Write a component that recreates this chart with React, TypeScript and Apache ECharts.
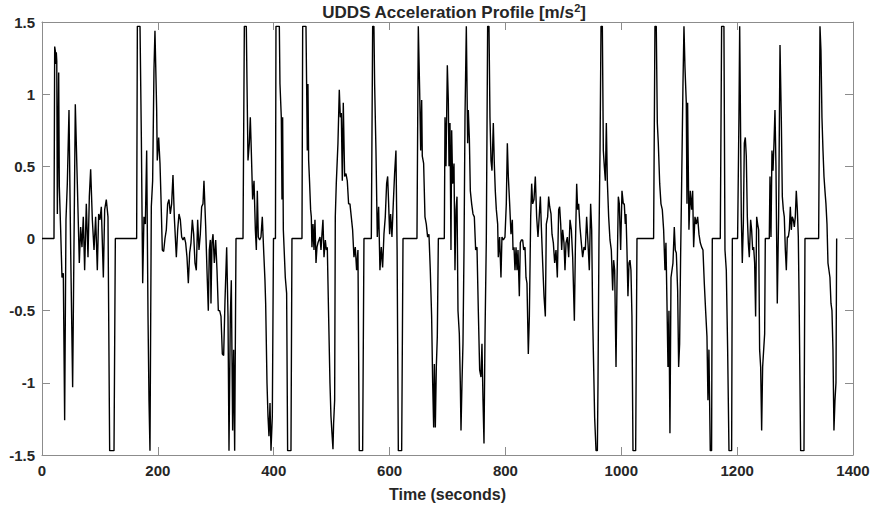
import React, { useEffect, useRef } from 'react';
import * as echarts from 'echarts';

// Tick setup
const timeTicks = [0, 200, 400, 600, 800, 1000, 1200, 1400];
const accelTicks = [-1.5, -1, -0.5, 0, 0.5, 1, 1.5];

const titleMain = 'UDDS Acceleration Profile [m/s';
const titleSup = '2';
const titleEnd = ']';
const xAxisName = 'Time (seconds)';

// [time s, acceleration m/s^2]
const phase0to210: [number, number][] = [
  [0, 0], [20.7, 0], [21.9, 1.33], [23, 1.3], [24.2, 1.21], [24.7, 1.29], [25.5, 1.23], [26.5, 0.17],
  [28.8, 1.15], [29.9, 0.36], [32.2, 0.06], [34.5, -0.27], [36.8, -0.24], [39.1, -1.26], [41.4, 0.13],
  [43.7, 0.38], [46.6, 0.89], [49.5, -0.08], [52.9, -1.03], [57.5, 0.93], [61, 0.38], [64.4, -0.17],
  [66.7, 0.08], [69, -0.06], [71.3, 0.15], [73.6, -0.22], [76.5, 0.24], [79.4, -0.13], [81.7, 0.29],
  [84, 0.48], [86.9, 0.13], [89.8, -0.08], [92.6, 0.15], [95.5, -0.22], [97.8, 0.17], [100.1, 0.13],
  [102.4, 0.22], [105.9, -0.27], [108.2, 0.2], [111, 0.27], [113.9, 0.15], [116.8, -1.47], [124.3, -1.47],
  [126.6, 0], [163.4, 0], [164.6, 1.47], [169.2, 1.47], [171.5, 0.7], [173.8, -0.31], [176, 0.15],
  [178.4, 0.1], [180.7, 0.61], [183, -0.54], [184.7, -1.12], [186.4, -1.47], [188.7, 0.22], [191, 0.4],
  [193.3, 1.17], [195, 1.44], [197.9, 0.9], [199, 0.54], [201.4, 0.7], [203.7, 0.52], [205.4, 0.28],
  [207.7, -0.08],
];

const phase210to400: [number, number][] = [
  [210, -0.09], [212.3, 0], [214.6, 0.06], [216.9, 0.24], [219.2, 0.27], [221.5, 0.17], [223.8, 0.24],
  [226.1, 0.44], [228.4, 0.15], [231.9, -0.13], [234.2, 0.06], [236.5, 0.17], [238.8, 0.13], [241.1, 0.01],
  [243.4, -0.01], [245.7, 0.01], [248, -0.03], [250.3, -0.13], [252.6, -0.31], [254.9, -0.1], [257.2, -0.03],
  [259.5, 0.13], [261.8, 0.03], [264.1, -0.17], [266.4, -0.22], [268.7, 0.13], [271, -0.08], [273.3, 0.03],
  [275.6, 0.22], [277.9, 0.24], [279.6, 0.4], [282.5, 0.09], [284.8, -0.22], [287.1, -0.5], [288.8, -0.08],
  [290.6, -0.01], [291.7, -0.45], [293.4, -0.03], [295.2, 0.03], [297.5, -0.17], [299.8, -0.01],
  [302.1, -0.22], [304.4, -0.5], [306.7, -0.5], [309, -0.54], [311.3, -0.8], [313.6, -0.81], [315.9, -0.43],
  [318.8, -0.06], [321.1, -0.54], [322.8, -1.47], [325.1, -0.54], [326.8, -0.29], [329.1, -1.33],
  [330.8, -0.77], [332.6, -1.47], [334.9, 0], [347, 0], [349.3, 1.47], [352.7, 1.47], [353.9, 1.07],
  [355.6, 0.54], [357.9, 0.66], [359.6, 0.84], [361.3, 0.61], [363.6, 0.27], [366, 0.4], [368.3, 0.06],
  [370, -0.08], [371.7, 0.33], [373.4, 0.01], [375.7, -0.01], [378, 0.01], [380.3, 0.15], [382.6, -0.08],
  [384.9, -0.29], [386.1, -0.45], [388.4, -1.0], [390.1, -1.23], [391.8, -1.37], [393.6, -1.14],
  [395.3, -1.47], [397.6, -1.23], [399.6, 0],
];

const phase400to610: [number, number][] = [
  [403, 0], [403.9, 1.47], [409.7, 1.47], [410.8, 1.07], [413.1, 0.84], [414.3, 0.27], [415.4, 0.84],
  [416.6, 0.06], [420, -0.27], [422.3, -0.38], [424, -1.47], [429.8, -1.47], [431.5, 0], [448.8, 0],
  [450, 1.47], [455.7, 1.47], [456.8, 1.07], [458, 0.61], [459.1, 1.07], [460.3, 0.54], [462, 0.38],
  [463.7, 0.2], [464.9, 0.15], [466, -0.06], [467.8, 0.1], [469.5, -0.08], [471.2, 0.13], [473, -0.17],
  [474.7, -0.06], [476.4, -0.03], [478.1, -0.01], [479.9, 0.01], [481.6, -0.08], [483.3, 0.03], [485, 0.13],
  [486.8, -0.13], [489.1, -0.01], [490.8, -0.08], [492.5, -0.06], [494.8, -0.54], [497.1, -1.0],
  [498.8, -1.23], [500.6, -1.35], [502.3, -1.46], [503.4, -1.28], [505.2, -1.12], [506.3, 0.15], [508, 0.38],
  [510.9, 0.66], [513.2, 1.03], [515, 0.84], [516.7, 0.87], [518.4, 0.4], [520.1, 0.94], [522.4, 0.43],
  [524.7, 0.45], [527, 0.4], [529.3, 0.24], [531.6, 0.24], [533.9, 0.15], [536.2, 0.06], [538.5, -0.13],
  [540.8, -0.06], [543.1, -0.22], [545.4, -0.08], [547.7, -1.47], [553.5, -1.47], [555.8, 0], [568.5, 0],
  [570.8, 1.47], [573, 1.47], [574.2, 1.07], [576.5, 0.61], [578.8, 0.01], [581.1, 0.22], [583.4, -0.22],
  [585.7, -0.06], [588, -0.2], [590.3, 0.03], [592.6, 0.15], [594.9, 0.38], [596.7, 0.43], [598.4, 0.24],
  [600.1, 0.03], [601.8, 0.17], [604.1, 0.01], [606.4, 0.24], [608.7, 0.45], [611, 0.61],
];

const phase610to815: [number, number][] = [
  [612.2, 0.2], [613, -0.08], [615.1, -1.47], [620.9, -1.47], [623.2, 0], [647.3, 0], [649.6, 1.47],
  [651.9, 1.03], [653.7, 0.61], [655.4, 0.96], [656.5, 0.57], [658.8, 0.52], [661.1, 0.15], [663.4, 0.1],
  [665.7, 0.01], [668, 0.03], [670.3, -0.22], [672.6, -0.54], [674.4, -1.0], [676.1, -1.31], [677.3, -0.87],
  [679, -1.31], [680.7, -0.89], [682.4, -0.68], [684.2, 0], [694.5, 0], [695.7, 0.84], [697.4, 0.5],
  [699.7, 1.2], [701.4, 0.96], [702.6, 0.5], [704.3, 0.8], [706, -0.08], [707.2, 0.75], [708.9, 0.38],
  [711.2, 0.52], [712.9, -0.22], [714.7, 0.2], [716.4, 0.29], [718.1, -0.5], [720.4, -0.66], [722.1, -1.0],
  [723.3, -1.33], [725, -1.0], [726.7, -0.73], [728.5, -0.08], [730.2, 0.84], [732.5, 1.47], [734.8, 0.66],
  [735.9, 0.89], [737.7, 0.7], [739.4, 0.33], [741.7, 0.24], [744, 0.17], [746.3, 0.15], [748.6, -0.08],
  [750.9, -0.06], [753.2, -0.5], [755.5, -0.91], [757.8, -0.96], [759.5, -0.73], [761.3, -1.12],
  [763, -1.42], [764.7, -0.68], [767, -0.01], [769.3, 1.47], [771.6, 1.47], [773.3, 0.84], [775.1, 0.54],
  [776.8, 0.47], [779.1, 0.8], [780.8, 0.52], [782.5, 0.33], [784.3, 0.2], [786.6, 0.1], [787.7, -0.13],
  [790, 0.01], [792.3, -0.27], [794, 0.01], [796.4, -0.01], [799.2, 0.01], [801.5, 0.24], [803.3, 0.66],
  [805, 0.43], [807.3, 0.24], [809.6, 0.03], [811.9, 0.13], [813.1, -0.08], [814.8, -0.06],
];

const phase815to1005: [number, number][] = [
  [816.5, -0.22], [818.3, -0.06], [820, -0.22], [821.7, -0.08], [824, -0.4], [825.7, -0.03], [827.5, -0.01],
  [829.8, -0.01], [831.5, -0.08], [833.8, -0.06], [835.5, -0.27], [837.2, -0.31], [839.5, -0.8],
  [841.3, -0.54], [843.6, 0.15], [845.3, 0.38], [847, 0.24], [849.3, 0.27], [851.6, 0.43], [853.9, 0.15],
  [856.2, 0.01], [858, 0.13], [860.3, 0.29], [862, 0.08], [864.3, -0.17], [866.6, -0.4], [868.9, -0.54],
  [870.6, 0.1], [872.9, 0.15], [874.6, 0.29], [876.4, 0.22], [878.7, 0.17], [880.4, 0.03], [882.7, -0.03],
  [885, -0.17], [887.3, -0.08], [889.6, -0.27], [891.9, 0.2], [893.6, 0.22], [895.4, 0.1], [897.1, -0.08],
  [898.8, 0.06], [901.1, -0.03], [902.8, -0.22], [904.6, -0.03], [906.9, 0.01], [909.2, -0.13],
  [911.5, 0.13], [913.8, 0.06], [916.1, -0.13], [919, -0.57], [920.7, -0.08], [923, 0.38], [924.7, 0.2],
  [926.4, 0.24], [928.7, 0.08], [931, -0.03], [933.3, -0.13], [935.6, -0.06], [937.9, -0.08], [940.2, 0.15],
  [942.5, -0.03], [944.8, -0.22], [947.1, 0.24], [948.9, 0.06], [950.6, -0.54], [952.3, -0.89],
  [954, -1.24], [956.4, -1.47], [958.7, -1.47], [959.8, -1.0], [961.5, 0], [963.3, 0.61], [965, 1.47],
  [967.3, 1.47], [969, 0.61], [970.7, 0.5], [972.5, 0.4], [974.2, 0.8], [975.9, 0.4], [978.2, 0.15],
  [980.5, -0.01], [982.8, -0.08], [985.1, -0.36], [986.8, -0.15], [988.6, -0.22], [990.9, -0.89],
  [992.6, -0.31], [994.9, 0.29], [996.6, 0.24], [998.9, -0.08], [1001.2, 0.33], [1003.5, 0.24],
];

const phase1005to1205: [number, number][] = [
  [1005.2, 0.24], [1006.9, 0.1], [1008.1, 0.17], [1009.8, -0.08], [1011.5, -0.4], [1013.3, -0.17],
  [1015, -0.15], [1016.7, -0.22], [1018.4, -0.54], [1020.2, -1.47], [1024.8, -1.47], [1027.1, 0],
  [1055.8, 0], [1058.1, 1.47], [1060.4, 1.47], [1062.2, 0.8], [1063.9, 0.66], [1066.3, 0.38],
  [1068.5, 0.24], [1070.8, 0.2], [1073.1, 0.06], [1075.4, -0.22], [1077.1, -0.03], [1078.8, -0.43],
  [1080.6, -0.89], [1082.3, -0.5], [1084, -1.35], [1085.8, -0.27], [1087.5, -0.22], [1089.2, -0.17],
  [1091.5, 0.08], [1093.2, -0.08], [1095, -0.1], [1097.3, -0.36], [1099, -0.89], [1100.7, -0.73],
  [1102.4, -0.13], [1104.2, 0.38], [1106.5, 1.07], [1108.2, 1.47], [1109.9, 1.19], [1112.2, 0.94],
  [1113.4, 0.24], [1114.5, 0.94], [1116.8, 0.06], [1119.1, 0.33], [1121.4, 0.2], [1123.2, 0.33],
  [1124.9, -0.06], [1127.2, 0.15], [1129.5, 0.1], [1131.8, 0.15], [1134.1, 0.03], [1136.4, -0.03],
  [1138.7, -0.06], [1141, -0.08], [1143.3, -0.31], [1145.6, -0.5], [1147.9, -0.68], [1149.6, -1.12],
  [1151.3, -0.77], [1153.6, -1.47], [1155.9, -1.47], [1157.1, 0], [1170.9, 0], [1173.2, 1.47],
  [1177.2, 1.47], [1179, -0.08], [1181.3, -0.22], [1183.6, -0.77], [1185.9, -1.47], [1190.5, -1.47],
  [1191.7, 0], [1200.8, 0], [1203.1, 0.84], [1204.4, 1.47],
];

const phase1205to1372: [number, number][] = [
  [1204.9, 1.47], [1207.2, 0.15], [1208.9, -0.17], [1210.7, 0.1], [1212.4, 0.66], [1214.1, 0.7],
  [1215.8, 0.57], [1217.6, 0.15], [1219.3, -0.03], [1221, -0.13], [1223.3, 0.13], [1225, 0.06],
  [1226.8, -0.08], [1228.5, -0.06], [1230.2, -0.17], [1231.9, -0.54], [1233.7, 0.15], [1235.4, 0.1],
  [1237.1, 0.06], [1238.8, -0.77], [1240.6, -0.89], [1242.3, -1.33], [1244, -0.89], [1245.8, -0.77],
  [1247.5, -0.66], [1248.6, 0], [1255.5, 0], [1256.7, 0.43], [1258.4, 0.01], [1260.1, 0.61],
  [1261.9, 0.47], [1263.6, 0.66], [1265.3, 0.89], [1267, 0.5], [1269.3, -0.45], [1271.6, 0.15],
  [1274, 1.34], [1276.2, 0.84], [1278, 0.29], [1279.7, 0.2], [1281.4, 0.15], [1283.2, -0.08],
  [1284.9, -0.22], [1286.6, 0.01], [1288.3, 0.01], [1290.1, 0.06], [1291.8, 0.22], [1293.5, 0.06],
  [1295.2, 0.15], [1297, 0.13], [1298.7, 0.08], [1300.4, 0.15], [1302.1, 0.33], [1303.9, 0.2],
  [1305.6, 0.01], [1307.3, -0.54], [1309.6, -1.47], [1315.4, -1.47], [1317.1, 0], [1340.7, 0],
  [1343, 1.47], [1344.7, 1.3], [1346.4, 0.84], [1348.2, 0.61], [1349.9, 0.43], [1351.6, 0.33],
  [1353.3, 0.24], [1355.1, 0.1], [1356.8, -0.17], [1358.5, -0.22], [1360.2, -0.27], [1362, -0.45],
  [1363.7, -0.5], [1365.4, -0.77], [1367.1, -1.33], [1368.9, -1.12], [1370.6, -1.0], [1371.8, 0],
];

const FONT = '"Liberation Sans", Arial, Helvetica, sans-serif';
const TEXT_COLOR = '#262626';
const AXIS_COLOR = '#8c8c8c';

export default function App() {
  const ref = useRef<HTMLDivElement>(null);

  useEffect(() => {
    if (!ref.current) return;
    const chart = echarts.init(ref.current, null, { renderer: 'svg' });
    const data = [
      ...phase0to210,
      ...phase210to400,
      ...phase400to610,
      ...phase610to815,
      ...phase815to1005,
      ...phase1005to1205,
      ...phase1205to1372,
    ];

    const lineStyle = { color: AXIS_COLOR, width: 1 };
    const labelStyle = {
      fontFamily: FONT,
      fontWeight: 'bold' as const,
      fontSize: 15,
      color: TEXT_COLOR,
    };
    const xMin = timeTicks[0];
    const xMax = timeTicks[timeTicks.length - 1];
    const xInt = timeTicks[1] - timeTicks[0];
    const yMin = accelTicks[0];
    const yMax = accelTicks[accelTicks.length - 1];
    const yInt = accelTicks[1] - accelTicks[0];

    chart.setOption({
      animation: false,
      backgroundColor: '#ffffff',
      title: {
        text: `{a|${titleMain}}{b|${titleSup}}{a|${titleEnd}}`,
        left: 449,
        textAlign: 'center',
        top: -6,
        textStyle: {
          rich: {
            a: { fontFamily: FONT, fontWeight: 'bold', fontSize: 17, color: TEXT_COLOR, lineHeight: 22, verticalAlign: 'bottom' },
            b: { fontFamily: FONT, fontWeight: 'bold', fontSize: 11, color: TEXT_COLOR, lineHeight: 12, verticalAlign: 'top', padding: [3, 0, 0, 0] },
          },
        },
      },
      grid: { left: 42, right: 20, top: 22, bottom: 53, containLabel: false },
      xAxis: [
        {
          type: 'value',
          min: xMin,
          max: xMax,
          interval: xInt,
          position: 'bottom',
          axisLine: { show: true, onZero: false, lineStyle },
          axisTick: { show: true, inside: true, length: 8, lineStyle },
          axisLabel: { ...labelStyle, margin: 8, formatter: (v: number) => String(v) },
          splitLine: { show: false },
          name: xAxisName,
          nameLocation: 'middle',
          nameGap: 31,
          nameTextStyle: { fontFamily: FONT, fontWeight: 'bold', fontSize: 16, color: TEXT_COLOR },
        },
        {
          type: 'value',
          min: xMin,
          max: xMax,
          interval: xInt,
          position: 'top',
          axisLine: { show: true, onZero: false, lineStyle },
          axisTick: { show: true, inside: true, length: 8, lineStyle },
          axisLabel: { show: false },
          splitLine: { show: false },
        },
      ],
      yAxis: [
        {
          type: 'value',
          min: yMin,
          max: yMax,
          interval: yInt,
          position: 'left',
          axisLine: { show: true, onZero: false, lineStyle },
          axisTick: { show: true, inside: true, length: 8, lineStyle },
          axisLabel: { ...labelStyle, margin: 7, formatter: (v: number) => String(v) },
          splitLine: { show: false },
        },
        {
          type: 'value',
          min: yMin,
          max: yMax,
          interval: yInt,
          position: 'right',
          axisLine: { show: true, onZero: false, lineStyle },
          axisTick: { show: true, inside: true, length: 8, lineStyle },
          axisLabel: { show: false },
          splitLine: { show: false },
        },
      ],
      series: [
        {
          type: 'line',
          xAxisIndex: 0,
          yAxisIndex: 0,
          data,
          showSymbol: false,
          symbol: 'none',
          lineStyle: { color: '#000000', width: 1.4 },
          clip: true,
        },
      ],
    });

    return () => chart.dispose();
  }, []);

  return (
    <div
      ref={ref}
      style={{ position: 'fixed', left: 0, top: 0, width: 873, height: 508, background: '#fff' }}
    />
  );
}
